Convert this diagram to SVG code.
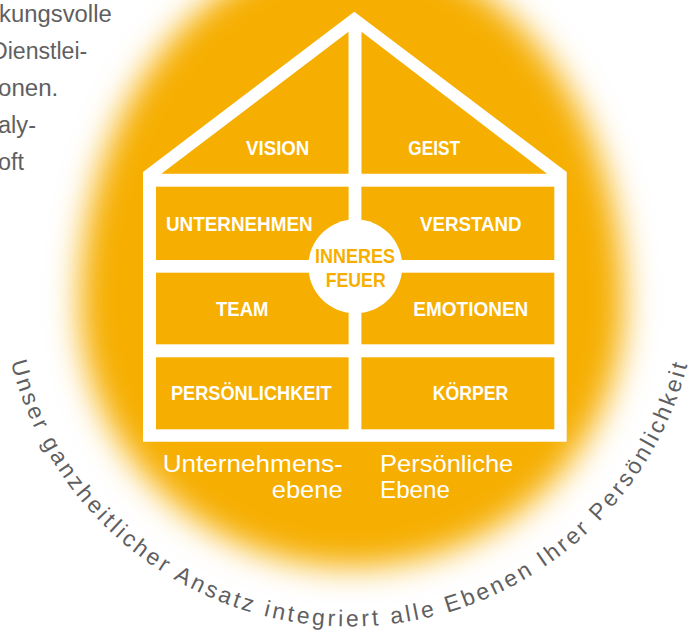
<svg xmlns="http://www.w3.org/2000/svg" width="688" height="635" viewBox="0 0 688 635">
<defs>
<style>
.lbl{font-family:"Liberation Sans",Arial,sans-serif;font-weight:bold;font-size:20px;fill:#ffffff;text-anchor:middle}
.core{fill:#F6AE00}
.lvl{font-family:"Liberation Sans",Arial,sans-serif;font-size:24.5px;fill:#ffffff}
.para{font-family:"Liberation Sans",Arial,sans-serif;font-size:23.5px;fill:#5f5f61}
.arc{font-family:"Liberation Sans",Arial,sans-serif;font-size:23px;fill:#5f5f61;letter-spacing:3px}
.panel{fill:#F6AE00}
.frame{fill:#ffffff}
</style>
<filter id="glowBlur" x="-25%" y="-25%" width="150%" height="150%">
<feGaussianBlur stdDeviation="16"/>
</filter>
<path id="arcPath" d="M 5.8,338.1 A 349,349 0 0 0 693.2,338.1"/>
</defs>
<rect width="688" height="635" fill="#ffffff"/>
<g id="glow">
<path d="M 80,305 A 272,355 0 0 1 624,305 A 272,262 0 0 1 80,305 Z" fill="#F6AE00" filter="url(#glowBlur)"/>
</g>
<g id="intro-text">
<text class="para" x="-1" y="21.5" textLength="112.7" lengthAdjust="spacingAndGlyphs">kungsvolle</text>
<text class="para" x="-9" y="58.6" textLength="96.3" lengthAdjust="spacingAndGlyphs">Dienstlei-</text>
<text class="para" x="-2" y="95.8" textLength="60.3" lengthAdjust="spacingAndGlyphs">onen.</text>
<text class="para" x="-2" y="132.9" textLength="38" lengthAdjust="spacingAndGlyphs">aly-</text>
<text class="para" x="-2" y="170" textLength="26" lengthAdjust="spacingAndGlyphs">oft</text>
</g>
<g id="house-frame">
<polygon class="frame" points="143,172 354.3,11.7 566.7,172 566.7,441.7 143,441.7"/>
</g>
<g id="node-vision">
<polygon class="panel" points="161.4,173.7 348.5,31.7 348.5,173.7"/>
<text class="lbl" x="277.7" y="155" textLength="63.3" lengthAdjust="spacingAndGlyphs">VISION</text>
</g>
<g id="node-geist">
<polygon class="panel" points="361.5,31.7 547,173.7 361.5,173.7"/>
<text class="lbl" x="434.2" y="155" textLength="51.7" lengthAdjust="spacingAndGlyphs">GEIST</text>
</g>
<g id="node-unternehmen">
<rect class="panel" x="156" y="186.7" width="192.6" height="73.3"/>
<text class="lbl" x="239.3" y="231" textLength="146.7" lengthAdjust="spacingAndGlyphs">UNTERNEHMEN</text>
</g>
<g id="node-verstand">
<rect class="panel" x="361.4" y="186.7" width="192.9" height="73.3"/>
<text class="lbl" x="470.8" y="231" textLength="101.7" lengthAdjust="spacingAndGlyphs">VERSTAND</text>
</g>
<g id="node-team">
<rect class="panel" x="156" y="272.7" width="192.6" height="71.6"/>
<text class="lbl" x="242.2" y="316" textLength="52.3" lengthAdjust="spacingAndGlyphs">TEAM</text>
</g>
<g id="node-emotionen">
<rect class="panel" x="361.4" y="272.7" width="192.9" height="71.6"/>
<text class="lbl" x="470.8" y="316" textLength="115" lengthAdjust="spacingAndGlyphs">EMOTIONEN</text>
</g>
<g id="node-persoenlichkeit">
<rect class="panel" x="156" y="357.3" width="192.6" height="72"/>
<text class="lbl" x="251.3" y="400" textLength="160.7" lengthAdjust="spacingAndGlyphs">PERSÖNLICHKEIT</text>
</g>
<g id="node-koerper">
<rect class="panel" x="361.4" y="357.3" width="192.9" height="72"/>
<text class="lbl" x="470.5" y="400" textLength="75.7" lengthAdjust="spacingAndGlyphs">KÖRPER</text>
</g>
<g id="node-inneres-feuer">
<circle cx="355.3" cy="266.3" r="47" fill="#ffffff"/>
<text class="lbl core" x="355" y="263.3" textLength="80" lengthAdjust="spacingAndGlyphs">INNERES</text>
<text class="lbl core" x="355.7" y="287.3" textLength="60" lengthAdjust="spacingAndGlyphs">FEUER</text>
</g>
<g id="level-labels">
<text class="lvl" x="162.7" y="472.3" textLength="180" lengthAdjust="spacingAndGlyphs">Unternehmens-</text>
<text class="lvl" x="271.7" y="498.3" textLength="71" lengthAdjust="spacingAndGlyphs">ebene</text>
<text class="lvl" x="380" y="472.3" textLength="133.3" lengthAdjust="spacingAndGlyphs">Persönliche</text>
<text class="lvl" x="380" y="498.3" textLength="70" lengthAdjust="spacingAndGlyphs">Ebene</text>
</g>
<g id="arc-caption">
<text class="arc"><textPath href="#arcPath" startOffset="50%" text-anchor="middle">Unser ganzheitlicher Ansatz integriert alle Ebenen Ihrer Persönlichkeit</textPath></text>
</g>
</svg>
